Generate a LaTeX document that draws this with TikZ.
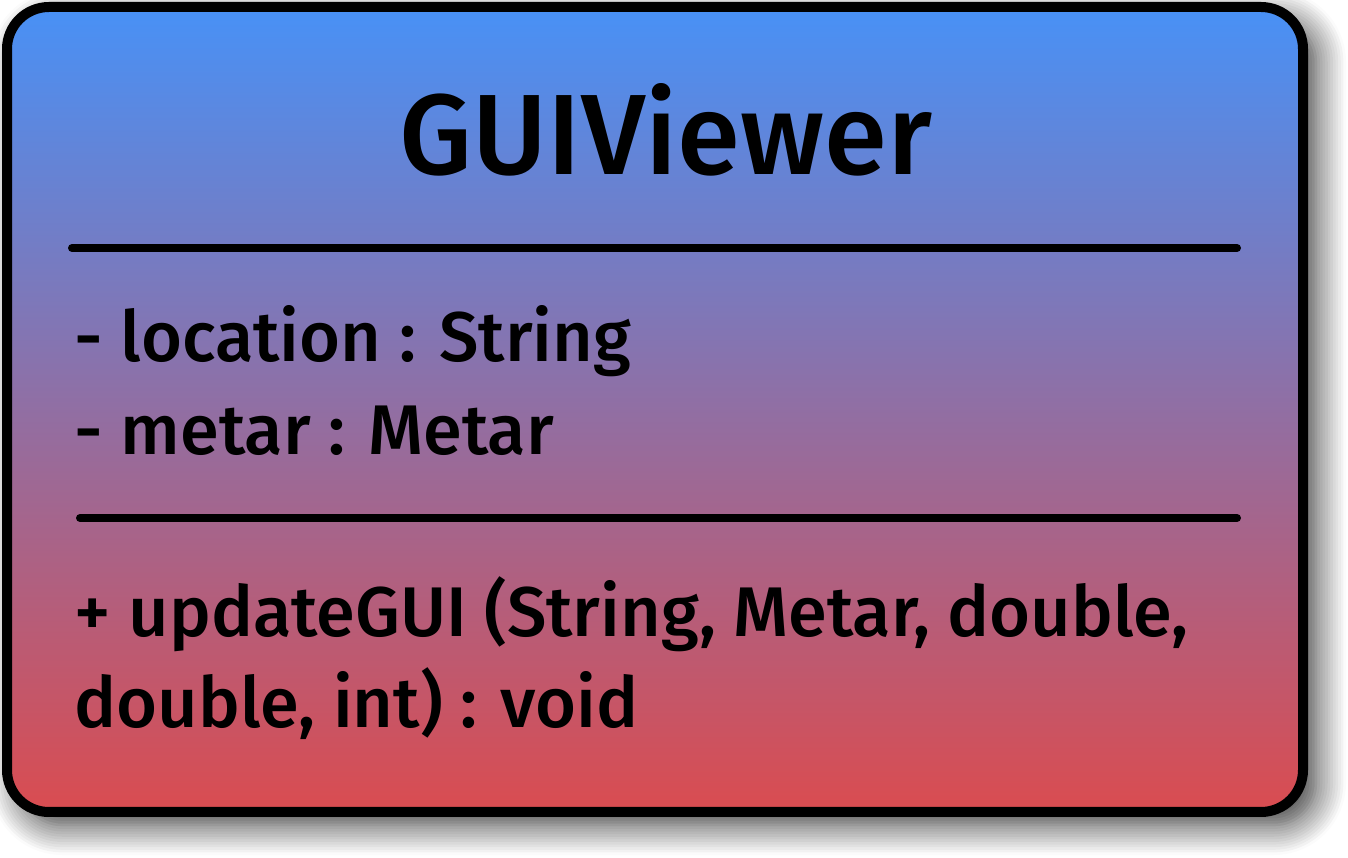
\documentclass[tikz,border=0pt]{standalone}
\usepackage{fontspec}
\setmainfont{Fira Sans}[BoldFont={Fira Sans Medium}]
\usetikzlibrary{shadows.blur}
\definecolor{topblue}{RGB}{72,145,246}
\definecolor{botred}{RGB}{218,76,80}

\begin{document}
\begin{tikzpicture}[every node/.style={inner sep=0pt, font=\bfseries},
  member/.style={anchor=base west, font=\bfseries\fontsize{20}{24}\selectfont},
  sepline/.style={line width=0.08cm, line cap=round}]
  \useasboundingbox (0,0) rectangle (13.48,-8.58);

  % Class box
  \shade[top color=topblue, bottom color=botred, rounded corners=0.42cm,
    blur shadow={shadow xshift=0.13cm, shadow yshift=-0.13cm, shadow blur radius=0.3cm, shadow blur steps=12, shadow opacity=80}]
    (0.07,-0.07) rectangle (13.03,-8.12);
  \draw[line width=0.1cm, rounded corners=0.42cm] (0.07,-0.07) rectangle (13.03,-8.12);

  % Title
  \node[anchor=base, font=\bfseries\fontsize{32.5}{40}\selectfont] (title) at (6.66,-1.75) {GUIViewer};

  % Separators
  \coordinate (s1l) at (0.72,-2.48);
  \coordinate (s1r) at (12.37,-2.48);
  \coordinate (s2l) at (0.80,-5.18);
  \coordinate (s2r) at (12.37,-5.18);
  \draw[sepline] (s1l) -- (s1r);
  \draw[sepline] (s2l) -- (s2r);

  % Attributes
  \node[member] (loc) at (0.74,-3.62) {- location : String};
  \node[member] (met) at (0.74,-4.55) {- metar : Metar};

  % Operations
  \node[member] (upd) at (0.74,-6.37) {+ updateGUI (String, Metar, double,};
  \node[member] (upd2) at (0.74,-7.28) {double, int) : void};
\end{tikzpicture}
\end{document}
